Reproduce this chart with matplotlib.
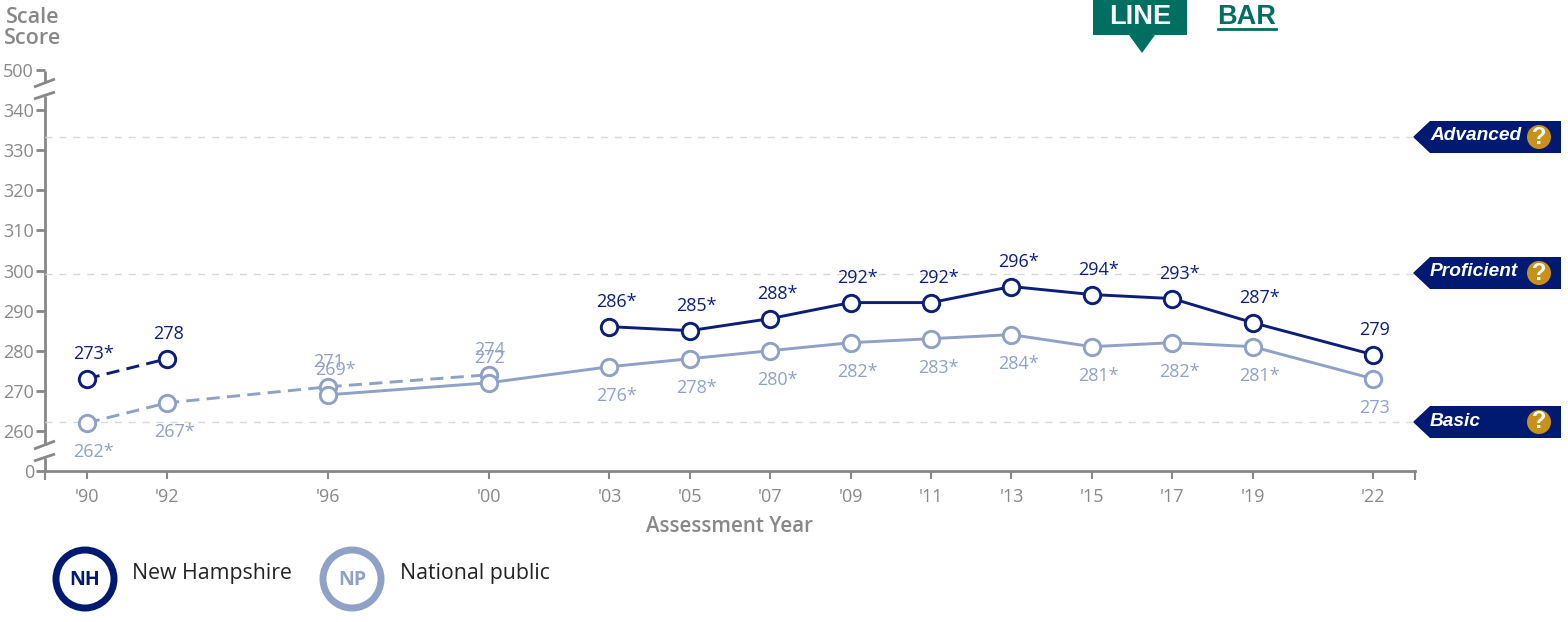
import matplotlib
matplotlib.use('Agg')
import matplotlib.pyplot as plt
from matplotlib.patches import Circle, Polygon

plt.rcParams['font.family'] = ['Open Sans', 'DejaVu Sans']

W, H = 1568, 622
NAVY = '#0b1f77'
DARK = '#001a72'
LIGHT = '#8fa1c7'
GREY = '#88888a'
GREEN = '#006f62'
GOLD = '#c8921a'

# datos
anios = [1990, 1992, 1996, 2000, 2003, 2005, 2007, 2009, 2011, 2013, 2015, 2017, 2019, 2022]
etiquetas_x = ["'90", "'92", "'96", "'00", "'03", "'05", "'07", "'09", "'11", "'13", "'15", "'17", "'19", "'22"]

nh_anios_viejo = [1990, 1992]
nh_viejo = [273, 278]
nh_viejo_txt = ['273*', '278']

nh_anios = [2003, 2005, 2007, 2009, 2011, 2013, 2015, 2017, 2019, 2022]
nh = [286, 285, 288, 292, 292, 296, 294, 293, 287, 279]
nh_txt = ['286*', '285*', '288*', '292*', '292*', '296*', '294*', '293*', '287*', '279']

np_anios_viejo = [1990, 1992, 1996, 2000]
np_viejo = [262, 267, 271, 274]
np_viejo_txt = ['262*', '267*', '271', '274']

np_anios = [1996, 2000, 2003, 2005, 2007, 2009, 2011, 2013, 2015, 2017, 2019, 2022]
np_nuevo = [269, 272, 276, 278, 280, 282, 283, 284, 281, 282, 281, 273]
np_txt = ['269*', '272', '276*', '278*', '280*', '282*', '283*', '284*', '281*', '282*', '281*', '273']

# eje con corte: 0 se dibuja en 250 y 500 en 350
ticks_y = [250, 260, 270, 280, 290, 300, 310, 320, 330, 340, 350]
etiquetas_y = ['0', '260', '270', '280', '290', '300', '310', '320', '330', '340', '500']

logros = ['Advanced', 'Proficient', 'Basic']
logros_val = [333, 299, 262]

fig = plt.figure(figsize=(W / 100, H / 100), dpi=100)

# capa en pixeles para lo que no son datos
fondo = fig.add_axes([0, 0, 1, 1])
fondo.set_xlim(0, W)
fondo.set_ylim(H, 0)
fondo.axis('off')

x0, x1, y0, y1 = 45, 1415, 471, 70
ax = fig.add_axes([x0 / W, 1 - y0 / H, (x1 - x0) / W, (y0 - y1) / H])
ax.patch.set_alpha(0)
ax.set_xlim(1988.96, 2023.04)
ax.set_ylim(250, 350)

for s in ['top', 'right', 'left']:
    ax.spines[s].set_visible(False)
ax.spines['bottom'].set_color(GREY)
ax.spines['bottom'].set_linewidth(2)

ax.set_xticks(anios)
ax.set_xticklabels(etiquetas_x, fontsize=13, color=GREY)
ax.set_yticks(ticks_y)
ax.set_yticklabels(etiquetas_y, fontsize=13, color=GREY)
ax.tick_params(axis='x', length=6, width=1.5, color=GREY, pad=6)
ax.tick_params(axis='y', length=6.5, width=2, color=GREY, pad=1.5)

# lineas de nivel de logro
for v in logros_val:
    ax.axhline(v + 0.2, color='#d8d8d8', lw=1, dashes=(5, 5), zorder=1)

# lineas
ax.plot(np_anios_viejo, np_viejo, color=LIGHT, lw=2.1, dashes=(4.5, 2.5), zorder=2)
ax.plot(np_anios, np_nuevo, color=LIGHT, lw=2.1, zorder=2)
ax.plot(nh_anios_viejo, nh_viejo, color=NAVY, lw=2.1, dashes=(4.5, 2.5), zorder=3)
ax.plot(nh_anios, nh, color=NAVY, lw=2.1, zorder=3)

# marcadores
for xs, ys, c, z in [(np_anios_viejo, np_viejo, LIGHT, 4), (np_anios, np_nuevo, LIGHT, 4),
                     (nh_anios_viejo, nh_viejo, NAVY, 5), (nh_anios, nh, NAVY, 5)]:
    ax.plot(xs, ys, 'o', ms=11.8, mfc='white', mec=c, mew=2.1, ls='none', zorder=z)

# valores, los que llevan asterisco van un poco a la derecha
def poner_textos(xs, ys, textos, color, dy):
    for x, y, t in zip(xs, ys, textos):
        dx = 7 if t.endswith('*') else 1
        ax.annotate(t, (x, y), xytext=(dx, dy), textcoords='offset pixels', ha='center',
                    va='center', fontsize=13, color=color, zorder=6)

poner_textos(nh_anios_viejo, nh_viejo, nh_viejo_txt, NAVY, 25)
poner_textos(nh_anios, nh, nh_txt, NAVY, 25)
poner_textos(np_anios_viejo[:2], np_viejo[:2], np_viejo_txt[:2], LIGHT, -29)
poner_textos(np_anios_viejo[2:], np_viejo[2:], np_viejo_txt[2:], LIGHT, 25)
poner_textos(np_anios[:2], np_nuevo[:2], np_txt[:2], LIGHT, 25)
poner_textos(np_anios[2:], np_nuevo[2:], np_txt[2:], LIGHT, -29)

# eje y partido
for a, b in [(71, 83), (96, 445), (458, 471)]:
    fondo.plot([45, 45], [a, b], color=GREY, lw=2, solid_capstyle='butt')
for a, b in [(87, 79), (99, 92), (449, 441), (461, 454)]:
    fondo.plot([34, 55], [a, b], color=GREY, lw=2, solid_capstyle='butt')
fondo.plot([1415, 1415], [471, 479], color=GREY, lw=1.5)
fondo.plot([45, 45], [471, 479], color=GREY, lw=1.5)

fondo.text(33, 28, 'Scale\nScore', ha='center', va='center', fontsize=15.5, color=GREY,
           fontweight='semibold', linespacing=1.0)
fondo.text(730, 527, 'Assessment Year', ha='center', va='center', fontsize=14.8, color=GREY,
           fontweight='semibold')

# botones
fondo.add_patch(Polygon([(1093, 0), (1187, 0), (1187, 35), (1155, 35), (1142, 53), (1129, 35), (1093, 35)],
                        fc=GREEN, ec='none'))
fondo.text(1140, 17, 'LINE', ha='center', va='center', fontsize=19.5, color='white', fontweight='bold',
           family='Liberation Sans')
fondo.text(1247, 17, 'BAR', ha='center', va='center', fontsize=19.5, color=GREEN, fontweight='bold',
           family='Liberation Sans')
fondo.plot([1218, 1276], [28.5, 28.5], color=GREEN, lw=2)

# etiquetas de logro
for nombre, yc, tx in [('Advanced', 137, 1430), ('Proficient', 273, 1430), ('Basic', 422, 1430)]:
    fondo.add_patch(Polygon([(1413, yc), (1430, yc - 16), (1561, yc - 16), (1561, yc + 16), (1430, yc + 16)],
                            fc=DARK, ec='none', zorder=3))
    fondo.text(tx, yc - 1, nombre, ha='left', va='center', fontsize=13.8, color='white', fontweight='bold',
               style='italic', family='Liberation Sans', zorder=4)
    fondo.add_patch(Circle((1539, yc), 12, fc=GOLD, ec='none', zorder=4))
    fondo.text(1539, yc, '?', ha='center', va='center', fontsize=17, color='white', fontweight='bold',
               family='Liberation Sans', zorder=5)

# leyenda
for cx, color, sigla, nombre, tx in [(85, DARK, 'NH', 'New Hampshire', 132), (352, LIGHT, 'NP', 'National public', 400)]:
    fondo.add_patch(Circle((cx, 579), 29, fc='white', ec=color, lw=5))
    fondo.text(cx, 580, sigla, ha='center', va='center', fontsize=14, color=color, fontweight='bold')
    fondo.text(tx, 574, nombre, ha='left', va='center', fontsize=15.3, color='#222222')

fig.savefig('out.png', dpi=100)
